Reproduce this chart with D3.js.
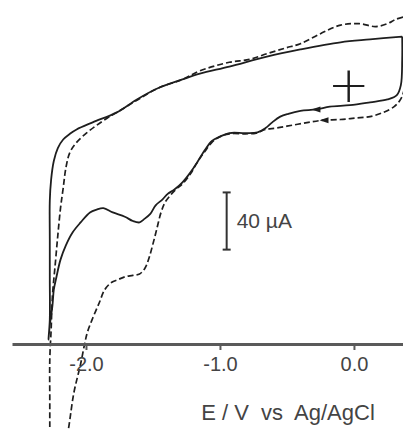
<!DOCTYPE html>
<html>
<head>
<meta charset="utf-8">
<script src="https://cdn.jsdelivr.net/npm/d3@7"></script>
<style>
  html, body { margin: 0; padding: 0; background: #fff; }
  svg { display: block; }
  text { font-family: "Liberation Sans", Arial, sans-serif; }
</style>
</head>
<body>
<script>
// Cyclic voltammograms, potential E (V vs Ag/AgCl) against current (µA).
// Each trace is listed in scan order, starting at the positive end.

// Solid trace
const solidE = [0.36, 0.36, 0.35, 0.32, 0.25, 0.12, -0.03, -0.18, -0.28, -0.40, -0.49, -0.55, -0.61, -0.66, -0.72,
  -0.81, -0.93, -1.00, -1.06, -1.11, -1.17, -1.22, -1.28, -1.34, -1.39, -1.43, -1.48, -1.52, -1.57, -1.60,
  -1.65, -1.71, -1.80, -1.87, -1.92, -1.97, -2.04, -2.10, -2.15, -2.19, -2.22, -2.24, -2.25, -2.27, -2.28,
  -2.27, -2.27, -2.27, -2.27, -2.26, -2.24, -2.21, -2.17, -2.12, -2.07, -1.95, -1.77, -1.62, -1.46, -1.28,
  -1.15, -0.93, -0.65, -0.40, -0.10, 0.12, 0.36];
const solidI = [215, 199, 181, 174, 171, 169, 167, 166, 164, 163, 161, 159, 155, 151, 148,
  147.5, 147.5, 145, 142, 136, 127, 120, 113, 108, 105, 101, 97, 91, 87, 85,
  86, 89, 92, 95, 94, 92, 85, 78, 69, 59, 47, 38, 27, 13, 3,
  17, 45, 73, 100, 115, 128, 137, 143, 147, 150, 155, 162, 171, 179, 185,
  189, 194, 201, 206, 211, 213, 215];

// Dashed trace
const dashedE = [0.38, 0.38, 0.37, 0.34, 0.30, 0.22, 0.12, 0.01, -0.10, -0.23, -0.34, -0.46, -0.58, -0.66, -0.73,
  -0.81, -0.93, -1.00, -1.06, -1.11, -1.17, -1.22, -1.28, -1.33, -1.37, -1.41, -1.44, -1.47, -1.50, -1.53,
  -1.56, -1.60, -1.65, -1.71, -1.76, -1.81, -1.86, -1.90, -1.95, -1.99, -2.01, -2.04, -2.09, -2.13, -2.18,
  -2.22, -2.25, -2.27, -2.27, -2.27, -2.27, -2.26, -2.25, -2.23, -2.21, -2.19, -2.17, -2.15, -2.12, -2.07,
  -1.99, -1.92, -1.84, -1.75, -1.61, -1.46, -1.28, -1.15, -0.93, -0.78, -0.65, -0.51, -0.40, -0.25, -0.10,
  0.04, 0.16, 0.25, 0.31, 0.38];
const dashedI = [229, 199, 176, 170, 166, 162, 159, 158, 157, 156.5, 155, 153, 151, 150, 147.5,
  147, 147, 145, 141, 135, 127, 119, 112, 108, 104, 99, 92, 81, 70, 60,
  53, 49, 48, 47, 45, 43, 38, 29, 18, 8, 0, -14, -34, -59, -85,
  -102, -109, -102, -67, -39, -11, 10, 34, 55, 76, 95, 109, 123, 134, 141,
  148, 153, 158, 163, 171, 179, 185, 191, 197, 199, 203, 207, 210, 217, 223,
  224, 222, 224, 227, 229];

// Potential axis ticks and labels
const tickValues = [-2.0, -1.0, 0.0];
const tickLabels = ["-2.0", "-1.0", "0.0"];
const axisTitle = "E / V  vs  Ag/AgCl";

// Current scale bar (µA) and its label
const scaleBarFrom = 66;
const scaleBarTo = 106;
const scaleBarLabel = "40 \u00b5A";
const scaleBarE = -0.95;

// Scan-direction arrows on the outgoing branches: [E, I]
const solidArrow = [-0.28, 164];
const dashedArrow = [-0.22, 156.5];

// Start marker
const markerE = -0.04, markerI = 181;

const W = 403, H = 429;
const ink = "#1e1e1e";

const x = d3.scaleLinear().domain([-2.552, 0.366]).range([12, 403]);
const y = d3.scaleLinear().domain([0, 240]).range([344, 344 - 240 * 1.43]);

const svg = d3.select("body").append("svg")
  .attr("width", W).attr("height", H)
  .attr("viewBox", `0 0 ${W} ${H}`);

const line = d3.line()
  .x(d => x(d[0])).y(d => y(d[1]))
  .curve(d3.curveCatmullRom.alpha(0.5));

const solid = solidE.map((e, i) => [e, solidI[i]]);
const dashed = dashedE.map((e, i) => [e, dashedI[i]]);

svg.append("path").datum(dashed)
  .attr("d", line)
  .attr("fill", "none")
  .attr("stroke", ink)
  .attr("stroke-width", 1.7)
  .attr("stroke-dasharray", "6,3");

svg.append("path").datum(solid)
  .attr("d", line)
  .attr("fill", "none")
  .attr("stroke", ink)
  .attr("stroke-width", 1.8);

// Arrowheads pointing toward negative potential
function arrow(p) {
  const cx = x(p[0]), cy = y(p[1]);
  svg.append("path")
    .attr("d", `M${cx - 5},${cy} L${cx + 4},${cy - 3} L${cx + 4},${cy + 3} Z`)
    .attr("fill", ink);
}
arrow(solidArrow);
arrow(dashedArrow);

// Potential axis
const axis = d3.axisBottom(x)
  .tickValues(tickValues)
  .tickFormat((d, i) => tickLabels[i])
  .tickSize(6)
  .tickSizeOuter(0)
  .tickPadding(7);

const gAxis = svg.append("g")
  .attr("transform", "translate(0,344)")
  .call(axis);
gAxis.select(".domain").attr("stroke", "#5a5a5a").attr("stroke-width", 3);
gAxis.selectAll(".tick line").attr("stroke", "#5a5a5a").attr("stroke-width", 2);
gAxis.selectAll(".tick text")
  .attr("fill", "#444")
  .style("font-size", "20px")
  .style("font-family", "'Liberation Sans', Arial, sans-serif");

svg.append("text")
  .attr("x", 288).attr("y", 420)
  .attr("text-anchor", "middle")
  .attr("fill", "#444")
  .style("font-size", "22px")
  .style("white-space", "pre")
  .text(axisTitle);

// Scale bar
const bx = x(scaleBarE);
const by0 = y(scaleBarTo), by1 = y(scaleBarFrom);
const gBar = svg.append("g").attr("stroke", "#333").attr("stroke-width", 2);
gBar.append("line").attr("x1", bx).attr("x2", bx).attr("y1", by0).attr("y2", by1);
gBar.append("line").attr("x1", bx - 4).attr("x2", bx + 4).attr("y1", by0).attr("y2", by0);
gBar.append("line").attr("x1", bx - 4).attr("x2", bx + 4).attr("y1", by1).attr("y2", by1);

svg.append("text")
  .attr("x", bx + 10).attr("y", (by0 + by1) / 2 + 7)
  .attr("fill", "#444")
  .style("font-size", "21px")
  .style("white-space", "pre")
  .text(scaleBarLabel);

// Start marker "+"
svg.append("text")
  .attr("x", x(markerE)).attr("y", y(markerI))
  .attr("text-anchor", "middle")
  .attr("dominant-baseline", "central")
  .attr("fill", ink)
  .style("font-family", "'DejaVu Sans', sans-serif")
  .style("font-weight", "200")
  .style("font-size", "50px")
  .text("+");
</script>
</body>
</html>
